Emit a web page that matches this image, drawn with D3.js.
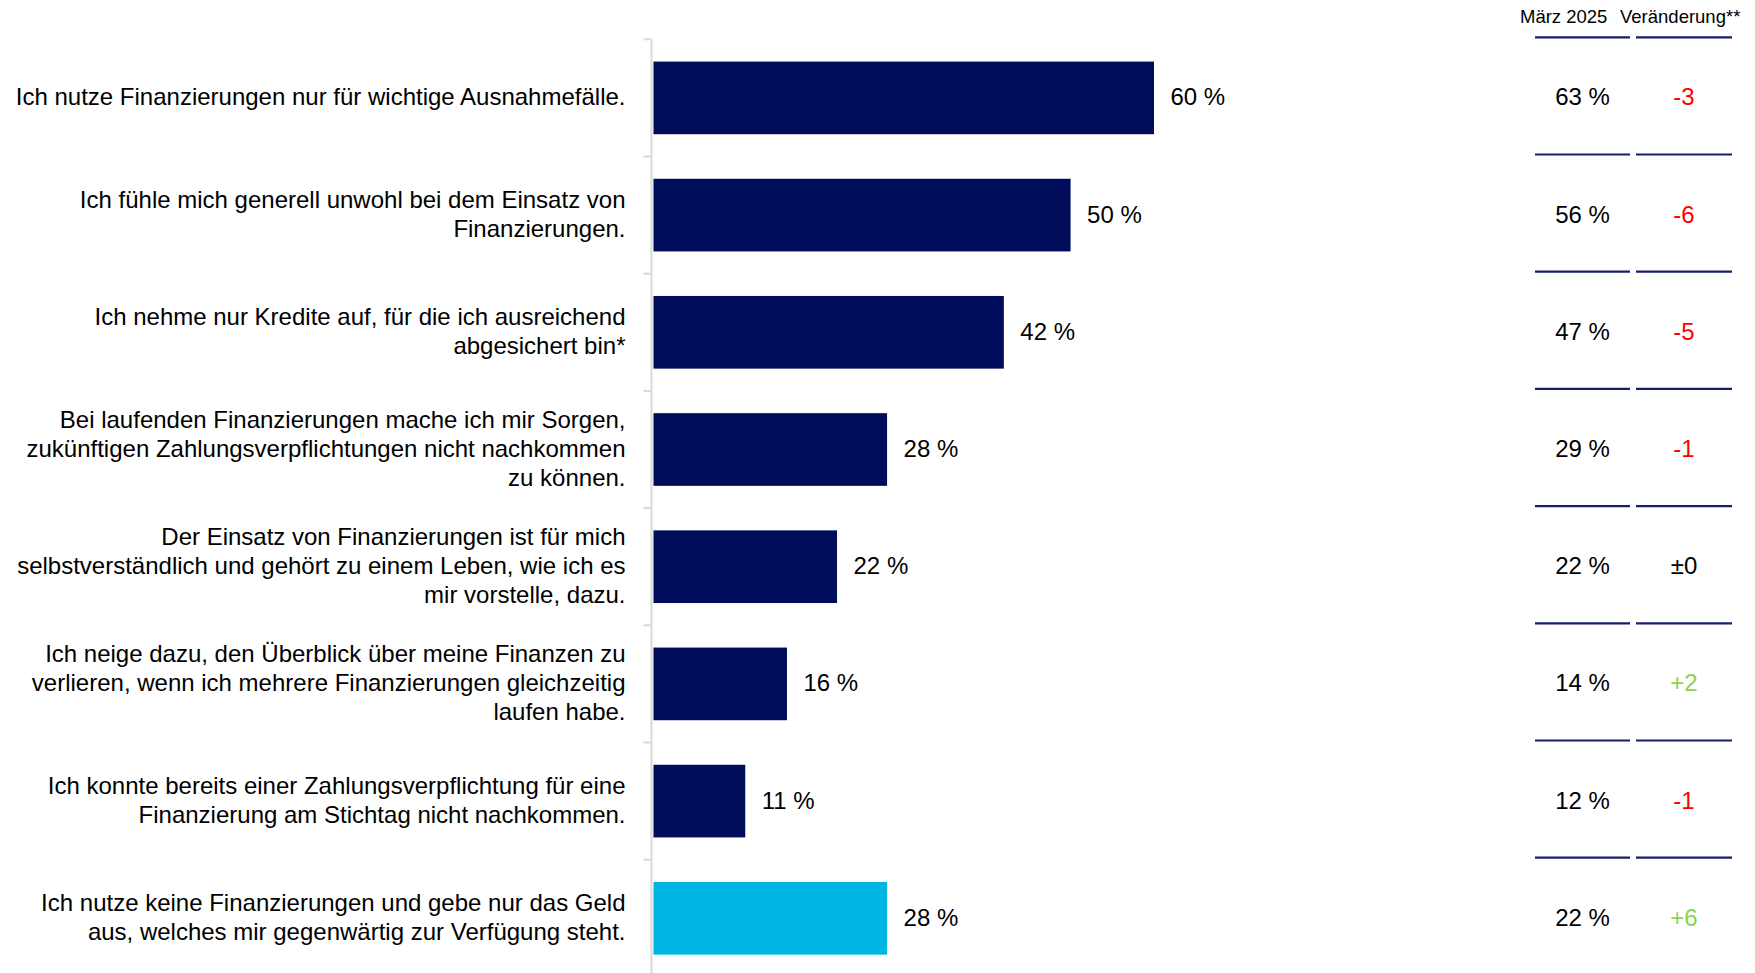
<!DOCTYPE html>
<html lang="de">
<head>
<meta charset="utf-8">
<script src="https://cdn.jsdelivr.net/npm/d3@7"></script>
<style>
  html, body { margin: 0; padding: 0; background: #fff; }
  svg { display: block; font-family: "Liberation Sans", Arial, sans-serif; }
</style>
</head>
<body>
<svg id="chart" width="1755" height="973"></svg>
<script>
// Aussagen (Zeilenumbrüche wie im Layout)
const categories = [
  ["Ich nutze Finanzierungen nur für wichtige Ausnahmefälle."],
  ["Ich fühle mich generell unwohl bei dem Einsatz von", "Finanzierungen."],
  ["Ich nehme nur Kredite auf, für die ich ausreichend", "abgesichert bin*"],
  ["Bei laufenden Finanzierungen mache ich mir Sorgen,", "zukünftigen Zahlungsverpflichtungen nicht nachkommen", "zu können."],
  ["Der Einsatz von Finanzierungen ist für mich", "selbstverständlich und gehört zu einem Leben, wie ich es", "mir vorstelle, dazu."],
  ["Ich neige dazu, den Überblick über meine Finanzen zu", "verlieren, wenn ich mehrere Finanzierungen gleichzeitig", "laufen habe."],
  ["Ich konnte bereits einer Zahlungsverpflichtung für eine", "Finanzierung am Stichtag nicht nachkommen."],
  ["Ich nutze keine Finanzierungen und gebe nur das Geld", "aus, welches mir gegenwärtig zur Verfügung steht."]
];
// aktuelle Werte in %
const values = [60, 50, 42, 28, 22, 16, 11, 28];
// Vergleichswerte März 2025 in %
const march2025 = [63, 56, 47, 29, 22, 14, 12, 22];
// Veränderung in Prozentpunkten
const changes = [-3, -6, -5, -1, 0, 2, -1, 6];
const columnHeaders = ["März 2025", "Veränderung**"];

const navy = "#000d5a";
const cyan = "#00b5e2";
const ruleColor = "#14206b";
const axisGray = "#d9d9d9";
const fontSize = 24;
const lineHeight = 29;
const textDy = "0.31em";

const svg = d3.select("#chart");
const n = values.length;

const x = d3.scaleLinear().domain([0, 60]).range([653.5, 1154]);
const y = d3.scaleBand()
  .domain(d3.range(n))
  .range([39.3, 39.3 + n * 117.2])
  .paddingInner(0.38)
  .paddingOuter(0.19);
const step = y.step();
const boundary = k => y.range()[0] + k * step;

// Achse mit Teilstrichen zwischen den Kategorien
const axisX = 651.5;
svg.append("line")
  .attr("x1", axisX).attr("x2", axisX)
  .attr("y1", boundary(0)).attr("y2", 973)
  .attr("stroke", axisGray).attr("stroke-width", 2);
svg.append("g").selectAll("line")
  .data(d3.range(n + 1))
  .join("line")
  .attr("x1", axisX - 8).attr("x2", axisX)
  .attr("y1", k => boundary(k)).attr("y2", k => boundary(k))
  .attr("stroke", axisGray).attr("stroke-width", 2);

// Balken
svg.append("g").selectAll("rect")
  .data(values)
  .join("rect")
  .attr("x", x(0))
  .attr("y", (d, i) => y(i))
  .attr("width", d => x(d) - x(0))
  .attr("height", y.bandwidth())
  .attr("fill", (d, i) => i === n - 1 ? cyan : navy);

// Wertbeschriftungen
svg.append("g").selectAll("text")
  .data(values)
  .join("text")
  .attr("x", d => x(d) + 16.5)
  .attr("y", (d, i) => y(i) + y.bandwidth() / 2)
  .attr("dy", textDy)
  .attr("font-size", fontSize)
  .attr("fill", "#000")
  .text(d => `${d} %`);

// Kategorienbeschriftungen, rechtsbündig
const labelG = svg.append("g");
categories.forEach((lines, i) => {
  const cy = y(i) + y.bandwidth() / 2;
  const t = labelG.append("text")
    .attr("text-anchor", "end")
    .attr("font-size", fontSize)
    .attr("fill", "#000");
  lines.forEach((ln, j) => {
    t.append("tspan")
      .attr("x", 625.5)
      .attr("y", cy + (j - (lines.length - 1) / 2) * lineHeight)
      .attr("dy", textDy)
      .text(ln);
  });
});

// Vergleichsspalten
const col1 = [1535, 1630];
const col2 = [1636, 1732];
svg.append("text")
  .attr("x", 1520).attr("y", 17).attr("dy", textDy)
  .attr("font-size", 18.5).attr("fill", "#000")
  .text(columnHeaders[0]);
svg.append("text")
  .attr("x", 1620).attr("y", 17).attr("dy", textDy)
  .attr("font-size", 18.5).attr("fill", "#000")
  .text(columnHeaders[1]);

const rules = svg.append("g");
d3.range(n).forEach(k => {
  const yy = boundary(k) - 2;
  [col1, col2].forEach(c => {
    rules.append("line")
      .attr("x1", c[0]).attr("x2", c[1])
      .attr("y1", yy).attr("y2", yy)
      .attr("stroke", ruleColor).attr("stroke-width", 2.2);
  });
});

svg.append("g").selectAll("text")
  .data(march2025)
  .join("text")
  .attr("x", (col1[0] + col1[1]) / 2)
  .attr("y", (d, i) => y(i) + y.bandwidth() / 2)
  .attr("dy", textDy)
  .attr("text-anchor", "middle")
  .attr("font-size", fontSize)
  .attr("fill", "#000")
  .text(d => `${d} %`);

const fmtChange = d => d > 0 ? `+${d}` : d < 0 ? `-${Math.abs(d)}` : "±0";
svg.append("g").selectAll("text")
  .data(changes)
  .join("text")
  .attr("x", (col2[0] + col2[1]) / 2)
  .attr("y", (d, i) => y(i) + y.bandwidth() / 2)
  .attr("dy", textDy)
  .attr("text-anchor", "middle")
  .attr("font-size", fontSize)
  .attr("fill", d => d > 0 ? "#92d050" : d < 0 ? "#ff0000" : "#000")
  .text(fmtChange);
</script>
</body>
</html>
